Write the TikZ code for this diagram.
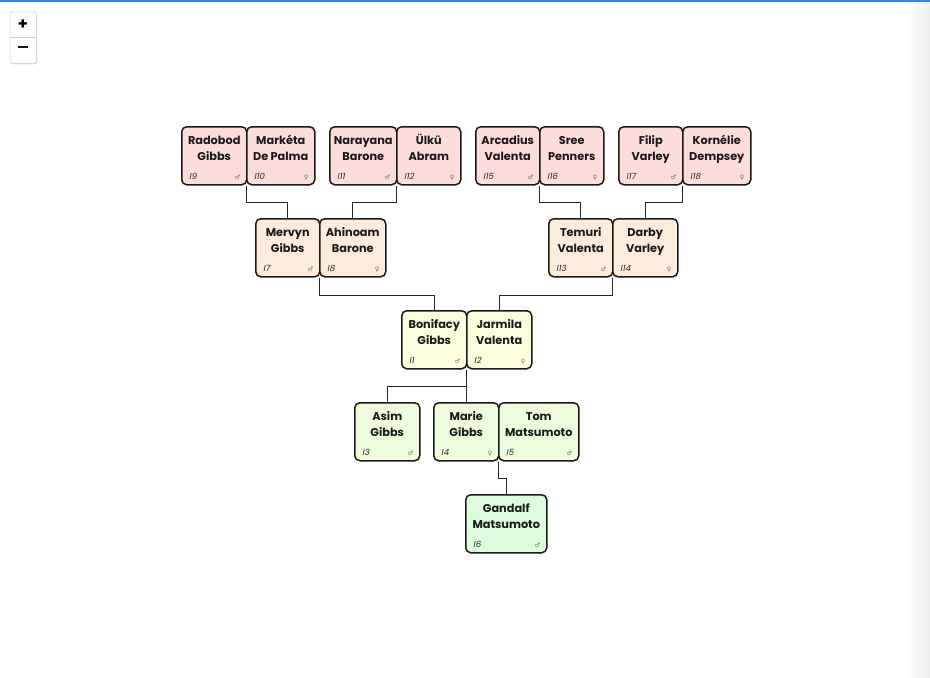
\documentclass[tikz,border=0pt]{standalone}
\usepackage{fontspec}
\setmainfont{Poppins}
\newfontfamily\symf{DejaVu Sans}
\newfontfamily\idf{Poppins}[FakeSlant=0.2]
\usetikzlibrary{shadows}
\definecolor{gA}{HTML}{FDDCDC}
\definecolor{gB}{HTML}{FDEBDC}
\definecolor{gC}{HTML}{FDFDDC}
\definecolor{gD}{HTML}{EDFDDC}
\definecolor{gE}{HTML}{DCFDDC}
\definecolor{topblue}{HTML}{2A8CDB}
\tikzset{
 pbox/.style={draw=black!90, line width=1.5pt, rounded corners=5pt, minimum height=58pt, inner sep=0pt, anchor=north west},
 nm/.style={font=\bfseries\fontsize{11.3}{16}\selectfont, align=center, inner sep=0pt, anchor=north, text height=9pt, text=black!90},
 idl/.style={font=\idf\fontsize{8.5}{8.5}\selectfont, inner sep=0pt, anchor=base west, text=black!85},
 sxl/.style={font=\symf\fontsize{6}{6}\selectfont, inner sep=0pt, anchor=base east, text=black!60},
 link/.style={draw=black!85, line width=0.8pt},
}
\newcommand\pers[8]{%
 \node[pbox, fill=#8, minimum width=#4pt] (#1) at (#2,#3) {};
 \node[nm] (#1-n) at ([yshift=-25pt]#1.north) {#5};
 \node[idl] (#1-i) at ([shift={(8pt,6pt)}]#1.south west) {#6};
 \node[sxl] (#1-s) at ([shift={(-7pt,6pt)}]#1.south east) {#7};
}
\begin{document}
\begin{tikzpicture}[x=1pt,y=-1pt]
\fill[white] (0,0) rectangle (930,678);
\useasboundingbox (0,0) rectangle (930,678);
\shade[left color=white, right color=black!7] (905,2) rectangle (930,678);
\draw[topblue, line width=1.5pt] (0,0.75) -- (930,0.75);
% zoom control
\node[draw=black!20, fill=white, rounded corners=2.5pt, minimum width=26pt, minimum height=52pt, inner sep=0pt, anchor=north west,
  drop shadow={opacity=0.3, shadow xshift=0.6pt, shadow yshift=-1.2pt}] (zc) at (10,11) {};
\draw[black!20, line width=0.6pt] (zc.west) -- (zc.east);
\node[font=\bfseries\fontsize{16}{16}\selectfont, inner sep=0pt] (zp) at (23,24.5) {+};
\node[font=\bfseries\fontsize{16}{16}\selectfont, inner sep=0pt] (zm) at (23,50) {\symf −};
% row 1
\pers{rad}{181}{126}{65}{Radobod\\Gibbs}{I9}{♂}{gA}
\pers{mar}{246}{126}{68}{Markéta\\De Palma}{I10}{♀}{gA}
\pers{nar}{329}{126}{67}{Narayana\\Barone}{I11}{♂}{gA}
\pers{ulk}{396}{126}{64}{Ülkü\\Abram}{I12}{♀}{gA}
\pers{arc}{475}{126}{64}{Arcadius\\Valenta}{I15}{♂}{gA}
\pers{sre}{539}{126}{64}{Sree\\Penners}{I16}{♀}{gA}
\pers{fil}{618}{126}{64}{Filip\\Varley}{I17}{♂}{gA}
\pers{kor}{682}{126}{68}{Kornélie\\Dempsey}{I18}{♀}{gA}
% row 2
\pers{mer}{255}{218}{64}{Mervyn\\Gibbs}{I7}{♂}{gB}
\pers{ahi}{319}{218}{66}{Ahinoam\\Barone}{I8}{♀}{gB}
\pers{tem}{548}{218}{64}{Temuri\\Valenta}{I13}{♂}{gB}
\pers{dar}{612}{218}{65}{Darby\\Varley}{I14}{♀}{gB}
% row 3
\pers{bon}{401}{310}{65}{Bonifacy\\Gibbs}{I1}{♂}{gC}
\pers{jar}{466}{310}{65}{Jarmila\\Valenta}{I2}{♀}{gC}
% row 4
\pers{asi}{354}{402}{65}{Asim\\Gibbs}{I3}{♂}{gD}
\pers{mri}{433}{402}{65}{Marie\\Gibbs}{I4}{♀}{gD}
\pers{tom}{498}{402}{80}{Tom\\Matsumoto}{I5}{♂}{gD}
% row 5
\pers{gan}{465}{494}{81}{Gandalf\\Matsumoto}{I6}{♂}{gE}
% links
\draw[link] (mar.south west) -- ++(0,17) -| (mer.north);
\draw[link] (ulk.south west) -- ++(0,17) -| (ahi.north);
\draw[link] (sre.south west) -- ++(0,17) -| (tem.north);
\draw[link] (kor.south west) -- ++(0,17) -| (dar.north);
\draw[link] (ahi.south west) -- ++(0,18) -| (bon.north);
\draw[link] (dar.south west) -- ++(0,18) -| (jar.north);
\draw[link] (jar.south west) -- ++(0,17) coordinate (j1) -| (asi.north);
\draw[link] (j1) -- (j1 |- mri.north);
\draw[link] (tom.south west) -- ++(0,17) -| (gan.north);
\end{tikzpicture}
\end{document}
